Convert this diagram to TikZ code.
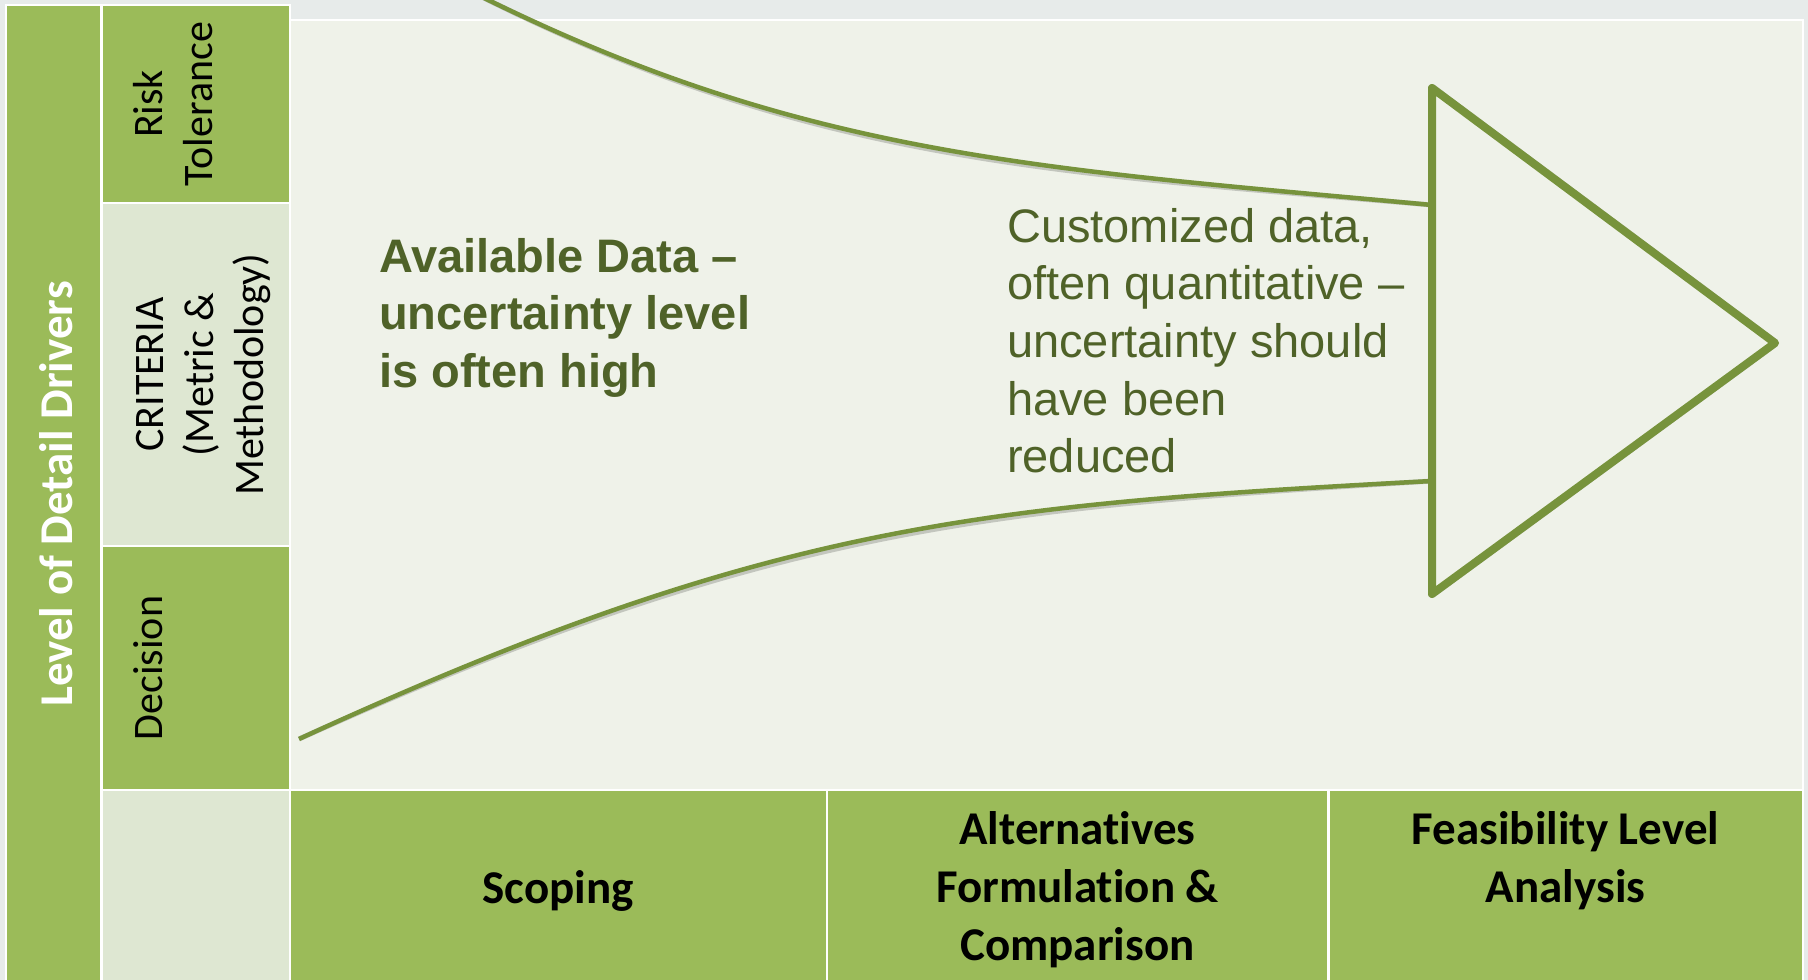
\documentclass[tikz,border=0pt]{standalone}
\usepackage{fontspec}
\newfontfamily\carlito[Ligatures=NoCommon]{Carlito}
\newfontfamily\arialf{Liberation Sans}
\definecolor{dgreen}{HTML}{9BBB59}
\definecolor{lgreen}{HTML}{DEE7D2}
\definecolor{mainbg}{HTML}{EFF2E9}
\definecolor{linec}{HTML}{77933C}
\definecolor{olive}{HTML}{4F6228}
\definecolor{outbg}{HTML}{E7EBEA}
\begin{document}
\begin{tikzpicture}[x=1pt,y=-1pt,
  cell/.style={draw=white,line width=2.5pt,inner sep=0pt,outer sep=0pt,anchor=north west},
  sidelbl/.style={font=\carlito\fontsize{42}{50}\selectfont,align=center,inner sep=0pt,rotate=90,anchor=base},
  phase/.style={font=\carlito\bfseries\fontsize{47}{58}\selectfont,align=center,inner sep=0pt,anchor=base},
  curve/.style={draw=linec,line width=4.5pt},
  shade/.style={draw=black,opacity=0.18,line width=5pt},
  tri/.style={draw=linec,line width=8pt,line join=round},
  trishade/.style={draw=black,opacity=0.18,line width=8pt,line join=round}]
\useasboundingbox (0,0) rectangle (1808,980);
\fill[outbg] (0,0) rectangle (1808,980);
% cells
\node[cell,fill=dgreen,minimum width=95.5pt,minimum height=985pt] (lvl) at (6,5) {};
\node[cell,fill=dgreen,minimum width=188.5pt,minimum height=198pt] (risk) at (101.5,5) {};
\node[cell,fill=lgreen,minimum width=188.5pt,minimum height=343pt] (crit) at (101.5,203) {};
\node[cell,fill=dgreen,minimum width=188.5pt,minimum height=244pt] (dec) at (101.5,546) {};
\node[cell,fill=lgreen,minimum width=188.5pt,minimum height=195pt] (blank) at (101.5,790) {};
\node[cell,fill=mainbg,minimum width=1513pt,minimum height=770pt] (main) at (290,20) {};
\node[cell,fill=dgreen,minimum width=537pt,minimum height=195pt] (scop) at (290,790) {};
\node[cell,fill=dgreen,minimum width=501.5pt,minimum height=195pt] (alt) at (827,790) {};
\node[cell,fill=dgreen,minimum width=474.5pt,minimum height=195pt] (feas) at (1328.5,790) {};
% side labels (base = last line)
\node[font=\carlito\bfseries\fontsize{47}{56}\selectfont,text=white,inner sep=0pt,rotate=90,anchor=base] (tlvl) at (72,494) {Level of Detail Drivers};
\node[sidelbl] (trisk) at (212,104) {Risk\\Tolerance};
\node[sidelbl] (tcrit) at (263,374.5) {CRITERIA\\(Metric \&\\Methodology)};
\node[sidelbl] (tdec) at (162,668) {Decision};
% phases
\node[phase] (tscop) at (558,903) {Scoping};
\node[phase] (talt) at (1077.5,960) {Alternatives\\Formulation \&\\Comparison};
\node[phase] (tfeas) at (1565.5,902) {Feasibility Level\\Analysis};
% arrow shapes
\coordinate (t1) at (1432,88);
\coordinate (t2) at (1775,343);
\coordinate (t3) at (1432,594);
\coordinate (ts) at (470,-9);
\coordinate (te) at (1432,205);
\coordinate (bs) at (299,739);
\coordinate (be) at (1432,481);
\draw[shade,shift={(2.5,3.5)}] (ts) .. controls (800,156) and (1032,168) .. (te);
\draw[shade,shift={(2.5,3.5)}] (bs) .. controls (769,523) and (982,505) .. (be);
\draw[trishade,shift={(3,4)}] (t1) -- (t2) -- (t3) -- cycle;
\draw[curve] (ts) .. controls (800,156) and (1032,168) .. (te);
\draw[curve] (bs) .. controls (769,523) and (982,505) .. (be);
\draw[tri,fill=mainbg] (t1) -- (t2) -- (t3) -- cycle;
% texts (base = last line)
\node[font=\arialf\bfseries\fontsize{47}{57.7}\selectfont,text=olive,align=left,inner sep=0pt,anchor=base west] (tavail) at (379,387.4) {Available Data –\\uncertainty level\\is often high};
\node[font=\arialf\fontsize{47}{57.7}\selectfont,text=olive,align=left,inner sep=0pt,anchor=base west] (tcust) at (1007,472.8) {Customized data,\\often quantitative –\\uncertainty should\\have been\\reduced};
\end{tikzpicture}
\end{document}
